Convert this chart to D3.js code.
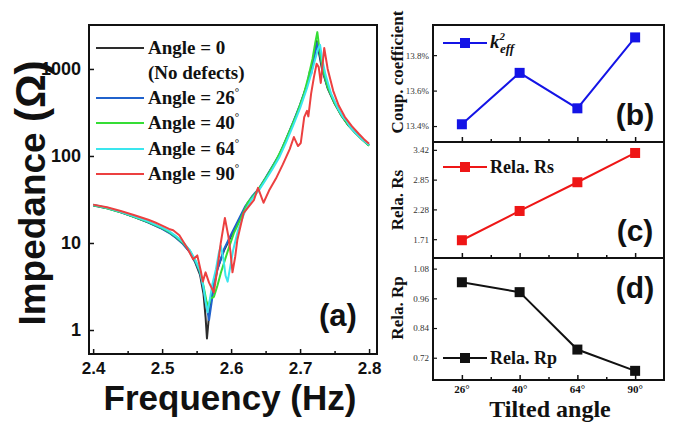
<!DOCTYPE html>
<html>
<head>
<meta charset="utf-8">
<script src="https://cdn.jsdelivr.net/npm/d3@7"></script>
<style>
  body { margin: 0; background: #fff; }
  svg { display: block; }
</style>
</head>
<body>
<svg id="chart" width="675" height="424"></svg>
<script>
// ---------- Impedance spectra, [frequency, |Z| in ohm] ----------
const angle0 = [[2.400,27.3],[2.420,25.3],[2.440,22.7],[2.460,19.9],[2.480,17.3],[2.500,14.6],[2.510,13.2],[2.520,11.6],[2.530,9.9],[2.540,7.9],[2.548,6.0],[2.555,4.3],[2.560,2.6],[2.563,1.4],[2.565,0.80],[2.567,1.2],[2.570,2.2],[2.575,3.4],[2.580,5.0],[2.590,8.3],[2.600,12.0],[2.610,17.5],[2.620,25],[2.630,33],[2.640,41],[2.650,55],[2.660,75],[2.670,102],[2.680,155],[2.690,240],[2.700,380],[2.710,650],[2.715,880],[2.720,1350],[2.724,2100],[2.727,1600],[2.732,980],[2.740,600],[2.750,400],[2.760,290],[2.770,225],[2.780,185],[2.790,155],[2.800,132]];
const angle26 = [[2.400,27.0],[2.420,25.0],[2.440,22.5],[2.460,19.8],[2.480,17.2],[2.500,14.5],[2.510,13.1],[2.520,11.5],[2.530,9.8],[2.540,7.9],[2.548,6.1],[2.555,4.5],[2.560,3.0],[2.564,2.0],[2.568,1.3],[2.571,1.9],[2.575,3.1],[2.580,4.9],[2.590,8.6],[2.600,12.5],[2.610,18],[2.620,26],[2.630,34],[2.640,42],[2.650,56],[2.660,76],[2.670,104],[2.680,158],[2.690,245],[2.700,390],[2.710,660],[2.714,930],[2.716,870],[2.720,1300],[2.725,2000],[2.728,1550],[2.733,950],[2.740,610],[2.750,410],[2.760,295],[2.770,228],[2.780,187],[2.790,157],[2.800,133]];
const angle40 = [[2.400,27.2],[2.420,25.1],[2.440,22.6],[2.460,19.9],[2.480,17.4],[2.500,14.8],[2.510,13.4],[2.520,11.8],[2.530,10.1],[2.540,8.2],[2.548,6.3],[2.555,4.7],[2.560,3.2],[2.564,2.2],[2.567,1.8],[2.570,2.3],[2.575,2.4],[2.580,3.2],[2.585,4.5],[2.595,8.0],[2.604,13],[2.614,19],[2.624,29],[2.635,37],[2.645,48],[2.655,64],[2.665,88],[2.675,128],[2.685,195],[2.695,300],[2.705,500],[2.712,810],[2.718,1300],[2.722,2000],[2.725,2650],[2.728,1700],[2.733,1000],[2.740,620],[2.750,405],[2.760,292],[2.770,226],[2.780,185],[2.790,155],[2.800,131]];
const angle64 = [[2.400,27.5],[2.420,25.4],[2.440,22.8],[2.460,20.1],[2.480,17.6],[2.500,15.0],[2.510,13.7],[2.520,12.0],[2.530,10.3],[2.540,8.3],[2.548,6.4],[2.555,4.8],[2.560,3.1],[2.563,2.1],[2.566,1.6],[2.569,2.2],[2.573,3.4],[2.578,5.0],[2.582,7.5],[2.585,9.3],[2.589,6.5],[2.592,4.2],[2.595,3.6],[2.599,5.5],[2.603,8.3],[2.610,14],[2.620,23],[2.630,32],[2.640,40],[2.650,53],[2.660,71],[2.670,97],[2.680,145],[2.690,225],[2.700,355],[2.710,600],[2.716,870],[2.722,1300],[2.726,1700],[2.729,1890],[2.732,1300],[2.737,850],[2.745,520],[2.755,350],[2.763,275],[2.767,255],[2.772,218],[2.780,186],[2.790,155],[2.800,134]];
const angle90 = [[2.400,27.6],[2.420,25.8],[2.440,23.3],[2.460,20.8],[2.480,18.5],[2.490,17.2],[2.500,15.8],[2.510,14.5],[2.516,14.0],[2.525,12.3],[2.537,8.6],[2.545,6.5],[2.551,7.2],[2.556,4.8],[2.559,3.6],[2.563,4.6],[2.568,3.5],[2.575,2.7],[2.580,5.0],[2.585,10],[2.591,19.4],[2.596,12],[2.599,8.0],[2.602,4.6],[2.606,7.0],[2.609,10.8],[2.618,22],[2.633,31],[2.639,43],[2.647,29],[2.655,40],[2.665,55],[2.675,80],[2.685,120],[2.691,165],[2.697,130],[2.701,141],[2.706,280],[2.710,330],[2.712,285],[2.716,520],[2.720,800],[2.724,1150],[2.727,1050],[2.730,690],[2.732,1000],[2.735,1740],[2.740,1000],[2.748,560],[2.756,380],[2.765,280],[2.775,220],[2.785,180],[2.793,155],[2.800,138]];

const seriesNames  = ["Angle = 0", "Angle = 26", "Angle = 40", "Angle = 64", "Angle = 90"];
const seriesColors = ["#2d2d2d", "#2062cc", "#35dd35", "#3ae6ee", "#ec4040"];
const freqTicks  = [2.4, 2.5, 2.6, 2.7, 2.8];
const freqMinor  = [2.45, 2.55, 2.65, 2.75];
const impTicks   = [1, 10, 100, 1000];

// ---------- Tilted-angle summaries ----------
const angleLabels   = ["26°", "40°", "64°", "90°"];
const kEff          = [13.41, 13.70, 13.50, 13.90];
const relaRs        = [1.69, 2.25, 2.80, 3.36];
const relaRp        = [1.025, 0.985, 0.753, 0.667];
const kEffTicks     = [13.4, 13.6, 13.8];
const rsTicks       = [1.71, 2.28, 2.85, 3.42];
const rpTicks       = [0.72, 0.84, 0.96, 1.08];

const svg = d3.select("#chart");
const SANS = "'Liberation Sans', Arial, sans-serif";
const SERIF = "'Liberation Serif', 'Times New Roman', serif";

// ================= (a) impedance vs frequency =================
const A = { left: 89, right: 377, top: 25, bottom: 354 };
const x = d3.scaleLinear().domain([2.394, 2.8115]).range([A.left, A.right]);
const y = d3.scaleLog().domain([0.53, 3200]).range([A.bottom, A.top]);

svg.append("clipPath").attr("id", "clipA")
  .append("rect").attr("x", A.left).attr("y", A.top)
  .attr("width", A.right - A.left).attr("height", A.bottom - A.top);

const line = d3.line().x(d => x(d[0])).y(d => y(d[1]));
const spectra = [angle0, angle26, angle40, angle64, angle90];
const gLines = svg.append("g").attr("clip-path", "url(#clipA)");
spectra.forEach((s, i) => {
  gLines.append("path").datum(s)
    .attr("d", line).attr("fill", "none")
    .attr("stroke", seriesColors[i]).attr("stroke-width", 2)
    .attr("stroke-linejoin", "round");
});

// axes with inward ticks
const xAxis = d3.axisBottom(x).tickValues(freqTicks).tickFormat(d3.format(".1f"))
  .tickSizeInner(-5).tickSizeOuter(0).tickPadding(8);
const gx = svg.append("g").attr("transform", `translate(0,${A.bottom})`).call(xAxis);
gx.select(".domain").remove();
gx.selectAll(".tick line").attr("stroke", "#111").attr("stroke-width", 1.5);
gx.selectAll("text").attr("font-family", SANS).attr("font-weight", "bold")
  .attr("font-size", 17).attr("fill", "#111");

const xMinor = d3.axisBottom(x).tickValues(freqMinor).tickFormat("").tickSizeInner(-3).tickSizeOuter(0);
const gxm = svg.append("g").attr("transform", `translate(0,${A.bottom})`).call(xMinor);
gxm.select(".domain").remove();
gxm.selectAll(".tick line").attr("stroke", "#111").attr("stroke-width", 1.5);

const yAxis = d3.axisLeft(y).tickValues(impTicks).tickFormat(d3.format("d"))
  .tickSizeInner(-5).tickSizeOuter(0).tickPadding(8);
const gy = svg.append("g").attr("transform", `translate(${A.left},0)`).call(yAxis);
gy.select(".domain").remove();
gy.selectAll(".tick line").attr("stroke", "#111").attr("stroke-width", 1.5);
gy.selectAll("text").attr("font-family", SANS).attr("font-weight", "bold")
  .attr("font-size", 18).attr("fill", "#111");

svg.append("rect").attr("x", A.left).attr("y", A.top)
  .attr("width", A.right - A.left).attr("height", A.bottom - A.top)
  .attr("fill", "none").attr("stroke", "#111").attr("stroke-width", 2);

// axis titles
svg.append("text").attr("x", 230).attr("y", 410).attr("text-anchor", "middle")
  .attr("font-family", SANS).attr("font-weight", "bold").attr("font-size", 35)
  .attr("fill", "#111").text("Frequency (Hz)");
const yTitle = svg.append("text").attr("transform", "translate(45,193) rotate(-90)")
  .attr("text-anchor", "middle").attr("font-family", SANS).attr("font-weight", "bold")
  .attr("font-size", 37).attr("fill", "#111").text("Impedance ");
yTitle.append("tspan").attr("font-size", 42).text("(Ω)");

svg.append("text").attr("x", 338).attr("y", 326).attr("text-anchor", "middle")
  .attr("font-family", SANS).attr("font-weight", "bold").attr("font-size", 31)
  .attr("fill", "#111").text("(a)");

// legend
const legendRows = [48, 98, 123, 149, 174];
seriesNames.forEach((name, i) => {
  const ly = legendRows[i];
  svg.append("line").attr("x1", 96).attr("x2", 144).attr("y1", ly).attr("y2", ly)
    .attr("stroke", seriesColors[i]).attr("stroke-width", 2);
  const t = svg.append("text").attr("x", 148).attr("y", ly + 6)
    .attr("font-family", SERIF).attr("font-weight", "bold").attr("font-size", 19)
    .attr("fill", "#111").text(name);
  if (i > 0) t.append("tspan").attr("font-size", 11).attr("dy", -8).text("°");
});
svg.append("text").attr("x", 148).attr("y", 79)
  .attr("font-family", SERIF).attr("font-weight", "bold").attr("font-size", 19)
  .attr("fill", "#111").text("(No defects)");

// ================= (b)(c)(d) tilted-angle panels =================
const P = { left: 433, right: 664 };
const xi = d3.scaleLinear().domain([-0.5, 3.5]).range([P.left, P.right]);

const panels = [
  { top: 25,  bottom: 142, domain: [13.31, 13.97], values: kEff,   ticks: kEffTicks,
    fmt: d => d.toFixed(1) + "%", color: "#1414e6", title: "Coup. coefficient", titleY: 72,
    tag: "(b)", tagY: 125, legendY: 43 },
  { top: 142, bottom: 258, domain: [1.35, 3.57],   values: relaRs, ticks: rsTicks,
    fmt: d => d.toFixed(2), color: "#ee1616", title: "Rela. Rs", titleY: 200,
    tag: "(c)", tagY: 241, legendY: 167, legendText: "Rela. Rs" },
  { top: 258, bottom: 380, domain: [0.63, 1.123],  values: relaRp, ticks: rpTicks,
    fmt: d => d.toFixed(2), color: "#111111", title: "Rela. Rp", titleY: 308,
    tag: "(d)", tagY: 298, legendY: 358, legendText: "Rela. Rp" }
];

panels.forEach(p => {
  const ys = d3.scaleLinear().domain(p.domain).range([p.bottom, p.top]);
  const g = svg.append("g");

  // y axis
  const ax = d3.axisLeft(ys).tickValues(p.ticks).tickFormat(p.fmt)
    .tickSizeInner(-4).tickSizeOuter(0).tickPadding(4);
  const gya = g.append("g").attr("transform", `translate(${P.left},0)`).call(ax);
  gya.select(".domain").remove();
  gya.selectAll(".tick line").attr("stroke", "#111").attr("stroke-width", 1.2);
  gya.selectAll("text").attr("font-family", SERIF).attr("font-size", 9).attr("fill", "#333");

  // x ticks on the panel's bottom edge
  const bx = d3.axisBottom(xi).tickValues([0, 1, 2, 3]).tickFormat("")
    .tickSizeInner(-5).tickSizeOuter(0);
  const gbx = g.append("g").attr("transform", `translate(0,${p.bottom})`).call(bx);
  gbx.select(".domain").remove();
  gbx.selectAll(".tick line").attr("stroke", "#111").attr("stroke-width", 1.5);
  const bxm = d3.axisBottom(xi).tickValues([0.5, 1.5, 2.5]).tickFormat("")
    .tickSizeInner(-3).tickSizeOuter(0);
  const gbxm = g.append("g").attr("transform", `translate(0,${p.bottom})`).call(bxm);
  gbxm.select(".domain").remove();
  gbxm.selectAll(".tick line").attr("stroke", "#111").attr("stroke-width", 1.5);

  // series
  const pl = d3.line().x((d, i) => xi(i)).y(d => ys(d));
  g.append("path").datum(p.values).attr("d", pl).attr("fill", "none")
    .attr("stroke", p.color).attr("stroke-width", 2);
  g.selectAll("rect.pt").data(p.values).join("rect").attr("class", "pt")
    .attr("x", (d, i) => xi(i) - 5).attr("y", d => ys(d) - 5)
    .attr("width", 10).attr("height", 10).attr("fill", p.color);

  // frame
  g.append("rect").attr("x", P.left).attr("y", p.top)
    .attr("width", P.right - P.left).attr("height", p.bottom - p.top)
    .attr("fill", "none").attr("stroke", "#111").attr("stroke-width", 2);

  // legend
  g.append("line").attr("x1", 443).attr("x2", 487).attr("y1", p.legendY).attr("y2", p.legendY)
    .attr("stroke", p.color).attr("stroke-width", 2);
  g.append("rect").attr("x", 460).attr("y", p.legendY - 5).attr("width", 10).attr("height", 10)
    .attr("fill", p.color);
  if (p.legendText) {
    g.append("text").attr("x", 490).attr("y", p.legendY + 6)
      .attr("font-family", SERIF).attr("font-weight", "bold").attr("font-size", 18)
      .attr("fill", "#111").text(p.legendText);
  } else {
    const kt = g.append("text").attr("x", 490).attr("y", p.legendY + 5)
      .attr("font-family", SERIF).attr("font-weight", "bold").attr("font-style", "italic")
      .attr("font-size", 19).attr("fill", "#111").text("k");
    kt.append("tspan").attr("font-size", 11).attr("dy", -8).text("2");
    kt.append("tspan").attr("font-size", 13).attr("dx", -5).attr("dy", 13).text("eff");
  }

  // panel tag
  g.append("text").attr("x", 635).attr("y", p.tagY).attr("text-anchor", "middle")
    .attr("font-family", SANS).attr("font-weight", "bold").attr("font-size", 30)
    .attr("fill", "#111").text(p.tag);

  // y title
  g.append("text").attr("transform", `translate(403,${p.titleY}) rotate(-90)`)
    .attr("text-anchor", "middle").attr("font-family", SERIF).attr("font-weight", "bold")
    .attr("font-size", 17).attr("fill", "#111").text(p.title);
});

// category labels and x title
svg.append("g").selectAll("text").data(angleLabels).join("text")
  .attr("x", (d, i) => xi(i)).attr("y", 393).attr("text-anchor", "middle")
  .attr("font-family", SERIF).attr("font-weight", "bold").attr("font-size", 11)
  .attr("fill", "#111").text(d => d);
svg.append("text").attr("x", 550).attr("y", 417).attr("text-anchor", "middle")
  .attr("font-family", SERIF).attr("font-weight", "bold").attr("font-size", 24)
  .attr("fill", "#111").text("Tilted angle");
</script>
</body>
</html>
